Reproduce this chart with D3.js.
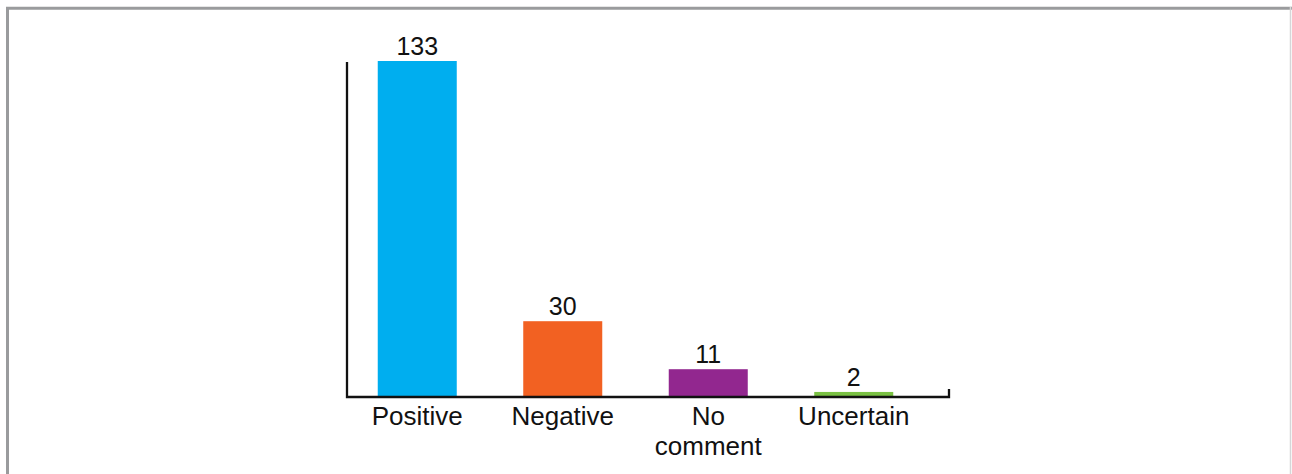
<!DOCTYPE html>
<html>
<head>
<meta charset="utf-8">
<script src="https://cdn.jsdelivr.net/npm/d3@7"></script>
<style>
  html, body { margin: 0; padding: 0; background: #fff; }
  svg { display: block; }
  text { font-family: "Liberation Sans", Arial, Helvetica, sans-serif; fill: #111; }
</style>
</head>
<body>
<svg id="chart" width="1292" height="474"></svg>
<script>
const categories = ["Positive", "Negative", "No comment", "Uncertain"];
const values = [133, 30, 11, 2];
const colors = ["#00AEEF", "#F26122", "#92278F", "#7AC143"];
const categoryLines = [["Positive"], ["Negative"], ["No", "comment"], ["Uncertain"]];

const svg = d3.select("#chart");

// frame
svg.append("line").attr("x1", 6).attr("x2", 1292).attr("y1", 8.3).attr("y2", 8.3)
  .attr("stroke", "#9a9b9d").attr("stroke-width", 3);
svg.append("line").attr("x1", 7.5).attr("x2", 7.5).attr("y1", 7).attr("y2", 474)
  .attr("stroke", "#9a9b9d").attr("stroke-width", 3);
svg.append("line").attr("x1", 1290.5).attr("x2", 1290.5).attr("y1", 7).attr("y2", 474)
  .attr("stroke", "#d6d6d8").attr("stroke-width", 1.5);

const baseY = 397;
const axisLeft = 347;
const axisRight = 949;

const x = d3.scaleBand()
  .domain(categories)
  .range([344.5, 926.5])
  .paddingInner(0.4570)
  .paddingOuter(0.2285);

const y = d3.scaleLinear().domain([0, 133]).range([baseY, 61]);

// bars
svg.append("g").selectAll("rect")
  .data(categories)
  .join("rect")
  .attr("x", d => x(d))
  .attr("width", x.bandwidth())
  .attr("y", (d, i) => y(values[i]))
  .attr("height", (d, i) => baseY - y(values[i]))
  .attr("fill", (d, i) => colors[i]);

// axes lines
svg.append("path")
  .attr("d", `M${axisLeft},62 V${baseY} H${axisRight} V389`)
  .attr("fill", "none")
  .attr("stroke", "#111")
  .attr("stroke-width", 2.3);

// value labels
svg.append("g").selectAll("text")
  .data(categories)
  .join("text")
  .attr("x", d => x(d) + x.bandwidth() / 2)
  .attr("y", (d, i) => y(values[i]) - 6)
  .attr("text-anchor", "middle")
  .attr("font-size", 25)
  .text((d, i) => values[i]);

// category labels
const lab = svg.append("g").selectAll("text")
  .data(categories)
  .join("text")
  .attr("x", d => x(d) + x.bandwidth() / 2)
  .attr("y", 425)
  .attr("text-anchor", "middle")
  .attr("font-size", 26);
lab.each(function(d, i) {
  const t = d3.select(this);
  categoryLines[i].forEach((ln, j) => {
    t.append("tspan")
      .attr("x", x(d) + x.bandwidth() / 2)
      .attr("dy", j === 0 ? 0 : 30)
      .text(ln);
  });
});
</script>
</body>
</html>
